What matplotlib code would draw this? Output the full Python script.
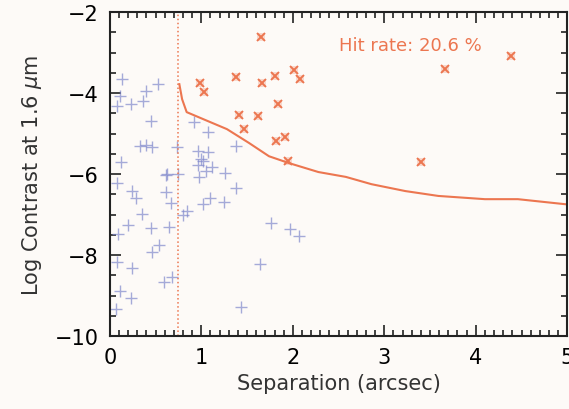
import matplotlib
matplotlib.use("Agg")
import matplotlib.pyplot as plt
from matplotlib.ticker import MultipleLocator

# non-detections / background (blue crosses): separation (arcsec), log contrast
blue_sep = [0.13, 0.53, 0.40, 0.11, 0.36, 0.23, 0.08, 0.45, 0.33, 0.40, 0.46,
            0.12, 0.61, 0.08, 0.24, 0.29, 0.61, 0.67, 0.35, 0.20, 0.45, 0.65,
            0.09, 0.54, 0.46, 0.08, 0.24, 0.68, 0.59, 0.11, 0.23, 0.07, 0.73,
            0.63, 0.74, 0.92, 1.07, 1.38, 0.96, 1.07, 1.00, 0.96, 1.02, 1.12,
            1.05, 1.26, 0.98, 1.38, 1.09, 1.02, 1.25, 0.84, 0.80, 1.76, 1.97,
            2.07, 1.64, 1.43]
blue_con = [-3.65, -3.77, -3.95, -4.07, -4.20, -4.27, -4.32, -4.69, -5.30, -5.28,
            -5.33, -5.70, -6.02, -6.22, -6.42, -6.59, -6.44, -6.72, -6.99, -7.26,
            -7.33, -7.31, -7.48, -7.75, -7.93, -8.17, -8.32, -8.54, -8.67, -8.89,
            -9.06, -9.33, -5.33, -6.00, -6.00, -4.72, -4.96, -5.31, -5.43, -5.46,
            -5.63, -5.78, -5.68, -5.83, -5.93, -5.98, -6.07, -6.35, -6.59, -6.74,
            -6.69, -6.91, -7.01, -7.21, -7.36, -7.53, -8.22, -9.28]

# detections (red x)
red_sep = [1.65, 1.38, 1.66, 1.80, 2.01, 2.08, 0.99, 1.03, 1.41, 1.62, 1.84,
           1.47, 1.91, 1.82, 1.95, 3.40, 3.66, 4.39]
red_con = [-2.62, -3.60, -3.75, -3.58, -3.43, -3.65, -3.75, -3.98, -4.54, -4.57,
           -4.27, -4.89, -5.09, -5.19, -5.68, -5.70, -3.41, -3.09]

# sensitivity curve
curve_sep = [0.76, 0.79, 0.84, 1.07, 1.28, 1.52, 1.74, 1.96, 2.28, 2.58, 2.86,
             3.23, 3.59, 4.10, 4.46, 5.00]
curve_con = [-3.78, -4.15, -4.47, -4.69, -4.89, -5.23, -5.56, -5.73, -5.95, -6.07,
             -6.25, -6.42, -6.54, -6.62, -6.62, -6.75]

inner_edge = 0.75
hit_rate = 20.6

red = '#ec7650'
blue = '#8088cc'

fig = plt.figure(figsize=(5.69, 4.10), dpi=100, facecolor='#fdfaf7')
ax = fig.add_axes([0.193, 0.178, 0.804, 0.79])
ax.set_facecolor('#fdfaf7')

ax.plot(blue_sep, blue_con, '+', color=blue, ms=9, mew=1.0, alpha=0.7)
ax.plot(red_sep, red_con, 's', color=red, ms=6, mew=0, alpha=0.25)
ax.plot(red_sep, red_con, 'x', color=red, ms=6, mew=1.4)
ax.plot(curve_sep, curve_con, '-', color=red, lw=1.5)
ax.axvline(inner_edge, color=red, ls=':', lw=1.1)
ax.text(2.5, -2.8, 'Hit rate: %.1f %%' % hit_rate, color=red, fontsize=13,
        va='center')

ax.set_xlim(0, 5)
ax.set_ylim(-10, -2)
ax.xaxis.set_major_locator(MultipleLocator(1))
ax.xaxis.set_minor_locator(MultipleLocator(0.1))
ax.yaxis.set_major_locator(MultipleLocator(2))
ax.yaxis.set_minor_locator(MultipleLocator(0.5))
ax.tick_params(which='both', direction='in', top=True, right=True,
               labelsize=15, width=1.2, color='#222222')
ax.tick_params(which='major', length=8, pad=8)
ax.tick_params(which='minor', length=4)
for s in ax.spines.values():
    s.set_linewidth(1.5)
    s.set_color('#222222')

ax.set_xlabel('Separation (arcsec)', fontsize=15, color='#333333', labelpad=4)
ax.set_ylabel(r'Log Contrast at 1.6 $\mu$m', fontsize=15, color='#333333',
              labelpad=8)

plt.savefig('out.png', dpi=100, facecolor=fig.get_facecolor())
